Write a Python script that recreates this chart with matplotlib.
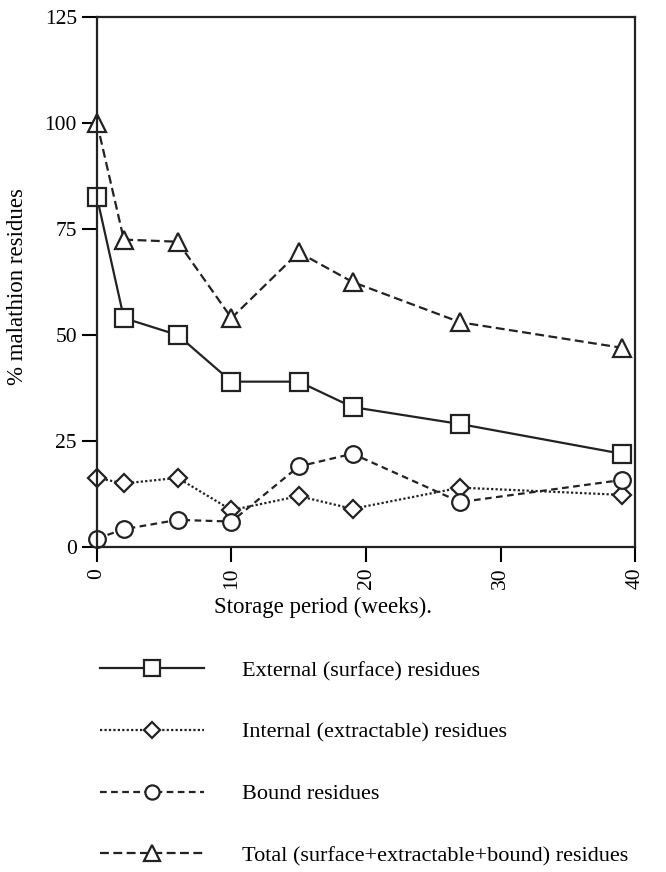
import matplotlib
matplotlib.use("Agg")
from matplotlib import pyplot as plt

# weeks of storage
weeks = [0, 2, 6, 10, 15, 19, 27, 39]

# % malathion residues
external = [82.5, 54, 50, 39, 39, 33, 29, 22]
internal = [16.3, 15, 16.3, 8.7, 12, 9, 14, 12.3]
bound = [2, 4.2, 6.4, 6, 19, 22, 10.6, 15.8]
total = [100, 72.5, 72, 54, 69.5, 62.5, 53, 47]

labels = [
    'External (surface) residues',
    'Internal (extractable) residues',
    'Bound residues',
    'Total (surface+extractable+bound) residues',
]

plt.rcParams['font.family'] = ['Liberation Serif', 'DejaVu Serif']
plt.rcParams['font.size'] = 15

fig = plt.figure(figsize=(6.66, 8.72), dpi=100)
ax = fig.add_axes([0.1456, 0.3727, 0.8079, 0.6078])

mk = dict(markerfacecolor='white', markeredgecolor='#222222',
          markeredgewidth=1.6, color='#222222', linewidth=1.6, clip_on=False)
h1, = ax.plot(weeks, external, '-', marker='s', markersize=13, **mk)
h2, = ax.plot(weeks, internal, linestyle=(0, (1, 1)), marker='D',
              markersize=9, **mk)
h3, = ax.plot(weeks, bound, linestyle=(0, (3, 2)), marker='o',
              markersize=12, **mk)
h4, = ax.plot(weeks, total, linestyle=(0, (4, 2)), marker='^',
              markersize=13, **mk)

ax.set_xlim(0, 40)
ax.set_ylim(0, 125)
ax.set_xticks([0, 10, 20, 30, 40])
ax.set_yticks([0, 25, 50, 75, 100, 125])
ax.tick_params(direction='out', length=11, width=1.5, labelsize=15.5,
               top=False, right=False)
ax.tick_params(axis='x', labelrotation=90, pad=4)
for s in ax.spines.values():
    s.set_linewidth(1.6)
    s.set_color('#222222')

fig.text(0.026, 0.672, '% malathion residues', rotation=90,
         ha='center', va='center', fontsize=16.5)
fig.text(0.485, 0.304, 'Storage period (weeks).', ha='center',
         va='center', fontsize=16.5)

fig.legend([h1, h2, h3, h4], labels, loc='upper left',
           bbox_to_anchor=(0.150, 0.2425), frameon=False, borderpad=0,
           borderaxespad=0, handlelength=4.7, handletextpad=1.7,
           labelspacing=1.85, fontsize=16, markerscale=0.85)

fig.savefig('out.png', dpi=100)
